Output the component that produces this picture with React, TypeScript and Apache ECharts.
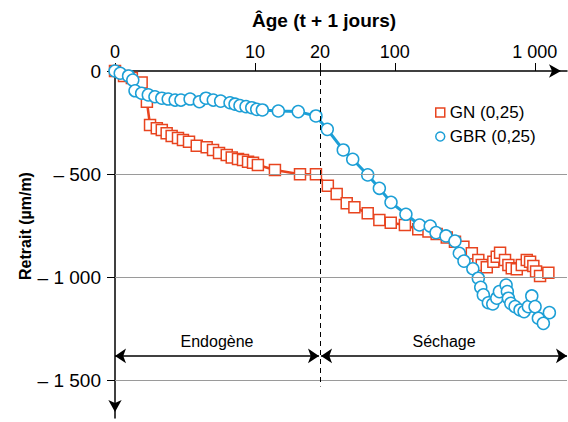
import React, { useEffect, useRef } from 'react';
import * as echarts from 'echarts';

// Axis ticks (x values are t + 1 in days, placed on the log axis)
const X_TICKS = [1, 10, 29.2, 100, 1000];
const X_TICK_LABELS = ['0', '10', '20', '100', '1 000'];
const Y_TICKS = [0, -500, -1000, -1500];
const Y_TICK_LABELS = ['0', '– 500', '– 1 000', '– 1 500'];
const GRID_LINES = [-500, -1000, -1500];
const SECHAGE_START = 29.2;
const PHASE_ARROW_Y = -1382;
const ENDO_RANGE = [1, 28.7];
const SECH_RANGE = [29.7, 1700];
const PHASE_LABELS = ['Endogène', 'Séchage'];

const SERIES_NAMES = ['GN (0,25)', 'GBR (0,25)'];

const GN_AGE = [1, 1.16, 1.32, 1.55, 1.69, 1.78, 1.99, 2.16, 2.34, 2.54, 2.82, 3.06, 3.38, 3.84, 4.52, 5.02, 5.54, 6.29, 6.83, 7.57, 8.22, 8.93, 9.69, 10.5, 13.9, 21.0, 27.3, 33.2, 38.4, 45.3, 51.4, 64.0, 77.5, 93.5, 118, 147, 174, 199, 235, 269, 309, 355, 395, 418, 454, 506, 535, 565, 613, 648, 685, 744, 808, 877, 926, 977, 1022, 1091, 1251];
const GN_RETRAIT = [0, -24, -34, -56, -149, -262, -278, -286, -302, -315, -325, -335, -343, -362, -370, -383, -398, -407, -420, -427, -432, -440, -445, -456, -480, -501, -501, -556, -597, -642, -661, -690, -723, -736, -747, -768, -779, -791, -807, -828, -852, -884, -917, -941, -952, -925, -901, -881, -917, -941, -957, -962, -941, -917, -925, -946, -973, -994, -978];

const GBR_AGE = [1, 1.09, 1.25, 1.34, 1.39, 1.55, 1.73, 1.93, 2.16, 2.40, 2.69, 2.96, 3.44, 4.01, 4.47, 5.04, 5.69, 6.64, 7.21, 7.82, 8.64, 9.49, 10.3, 11.3, 14.7, 20.4, 27.3, 32.9, 42.8, 50.0, 64.0, 77.5, 93.9, 120, 150, 179, 197, 232, 269, 289, 312, 361, 395, 411, 429, 466, 501, 535, 559, 624, 637, 648, 674, 723, 785, 839, 900, 952, 1005, 1061, 1152, 1272];
const GBR_RETRAIT = [0, -11, -24, -44, -96, -108, -116, -125, -132, -136, -141, -141, -136, -149, -132, -141, -146, -154, -161, -168, -173, -178, -186, -189, -194, -197, -218, -283, -383, -428, -504, -569, -637, -695, -747, -752, -784, -800, -825, -884, -922, -959, -1005, -1049, -1086, -1124, -1130, -1102, -1070, -1038, -1070, -1102, -1127, -1143, -1159, -1167, -1143, -1091, -1143, -1199, -1224, -1172];

const RED = '#e8441f';
const BLUE = '#1c9fd6';
const FONT = '"Liberation Sans", Arial, sans-serif';

export default function App() {
  const ref = useRef<HTMLDivElement>(null);
  useEffect(() => {
    if (!ref.current) return;
    const chart = echarts.init(ref.current, undefined, { renderer: 'svg' });
    const xLabelMap = (v: number) => {
      for (let i = 0; i < X_TICKS.length; i++) {
        if (Math.abs(v - X_TICKS[i]) / X_TICKS[i] < 0.01) return X_TICK_LABELS[i];
      }
      return '';
    };
    const yLabelMap = (v: number) => {
      const i = Y_TICKS.indexOf(Math.round(v));
      return i >= 0 ? Y_TICK_LABELS[i] : '';
    };
    const option: any = {
      animation: false,
      textStyle: { fontFamily: FONT },
      grid: { left: 115, right: 1, top: 71, bottom: 4, containLabel: false },
      xAxis: {
        type: 'log',
        logBase: 10,
        min: 1,
        max: 1700,
        position: 'top',
        axisLine: {
          show: true,
          lineStyle: { color: '#000', width: 1.5 },
          symbol: ['none', 'arrow'],
          symbolSize: [10, 12],
          symbolOffset: [0, -6],
        },
        axisTick: { show: true, length: 8, customValues: X_TICKS, lineStyle: { color: '#000', width: 1 } },
        axisLabel: {
          customValues: X_TICKS,
          formatter: xLabelMap,
          fontSize: 18,
          color: '#000',
          margin: 10,
          fontFamily: FONT,
        },
        splitLine: { show: false },
        minorTick: { show: false },
      },
      yAxis: {
        type: 'value',
        min: -1683,
        max: 0,
        axisLine: {
          show: true,
          onZero: false,
          lineStyle: { color: '#000', width: 1.5 },
          symbol: ['arrow', 'none'],
          symbolSize: [10, 12],
          symbolOffset: [6, 0],
        },
        axisTick: { show: true, length: 8, customValues: Y_TICKS, lineStyle: { color: '#000', width: 1 } },
        axisLabel: {
          customValues: Y_TICKS,
          formatter: yLabelMap,
          fontSize: 19,
          color: '#000',
          margin: 14,
          fontFamily: FONT,
        },
        splitLine: { show: false },
      },
      legend: {
        orient: 'vertical',
        left: 430,
        top: 99,
        itemWidth: 9,
        itemHeight: 9,
        itemGap: 7,
        textStyle: { fontSize: 17, lineHeight: 16, color: '#000', fontFamily: FONT },
        data: [
          { name: SERIES_NAMES[0], icon: 'rect', itemStyle: { color: '#fff', borderColor: RED, borderWidth: 1.5 } },
          { name: SERIES_NAMES[1], icon: 'circle', itemStyle: { color: '#fff', borderColor: BLUE, borderWidth: 1.5 } },
        ],
      },
      graphic: [
        {
          type: 'text',
          x: 324,
          y: 20,
          style: {
            text: 'Âge (t + 1 jours)',
            font: `bold 19px ${FONT}`,
            fill: '#000',
            textAlign: 'center',
            textVerticalAlign: 'middle',
          },
        },
        {
          type: 'text',
          x: 25,
          y: 226,
          rotation: Math.PI / 2,
          style: {
            text: 'Retrait (µm/m)',
            font: `bold 16px ${FONT}`,
            fill: '#000',
            textAlign: 'center',
            textVerticalAlign: 'middle',
          },
        },
      ],
      series: [
        {
          name: 'grid',
          type: 'line',
          data: [],
          z: 1,
          silent: true,
          markLine: {
            silent: true,
            symbol: ['none', 'none'],
            label: { show: false },
            lineStyle: { color: '#9a9a9a', width: 1, type: 'solid' },
            data: GRID_LINES.map((v) => ({ yAxis: v })),
          },
        },
        {
          name: 'phases',
          type: 'line',
          data: [],
          z: 1,
          silent: true,
          markLine: {
            silent: true,
            symbol: ['arrow', 'arrow'],
            symbolSize: 11,
            label: {
              show: true,
              position: 'insideMiddleTop',
              formatter: '{b}',
              color: '#000',
              fontSize: 16,
              fontFamily: FONT,
              distance: 6,
            },
            lineStyle: { color: '#000', width: 1.5, type: 'solid' },
            data: [
              [
                { name: PHASE_LABELS[0], coord: [ENDO_RANGE[0], PHASE_ARROW_Y] },
                { coord: [ENDO_RANGE[1], PHASE_ARROW_Y] },
              ],
              [
                { name: PHASE_LABELS[1], coord: [SECH_RANGE[0], PHASE_ARROW_Y] },
                { coord: [SECH_RANGE[1], PHASE_ARROW_Y] },
              ],
              [
                { name: '', coord: [SECHAGE_START, 0], symbol: 'none', lineStyle: { type: [5, 4], width: 1 } },
                { coord: [SECHAGE_START, -1530], symbol: 'none' },
              ],
            ],
          },
        },
        {
          name: SERIES_NAMES[0],
          type: 'line',
          z: 3,
          data: GN_AGE.map((a, i) => [a, GN_RETRAIT[i]]),
          symbol: 'rect',
          symbolSize: 11,
          itemStyle: { color: '#fff', borderColor: RED, borderWidth: 1.5 },
          lineStyle: { color: RED, width: 2.5 },
        },
        {
          name: SERIES_NAMES[1],
          type: 'line',
          z: 4,
          data: GBR_AGE.map((a, i) => [a, GBR_RETRAIT[i]]),
          symbol: 'circle',
          symbolSize: 12,
          itemStyle: { color: '#fff', borderColor: BLUE, borderWidth: 1.5 },
          lineStyle: { color: BLUE, width: 3 },
        },
      ],
    };
    chart.setOption(option);
    return () => chart.dispose();
  }, []);
  return (
    <div
      ref={ref}
      style={{ position: 'fixed', left: 0, top: 0, width: 568, height: 422, background: '#fff' }}
    />
  );
}
